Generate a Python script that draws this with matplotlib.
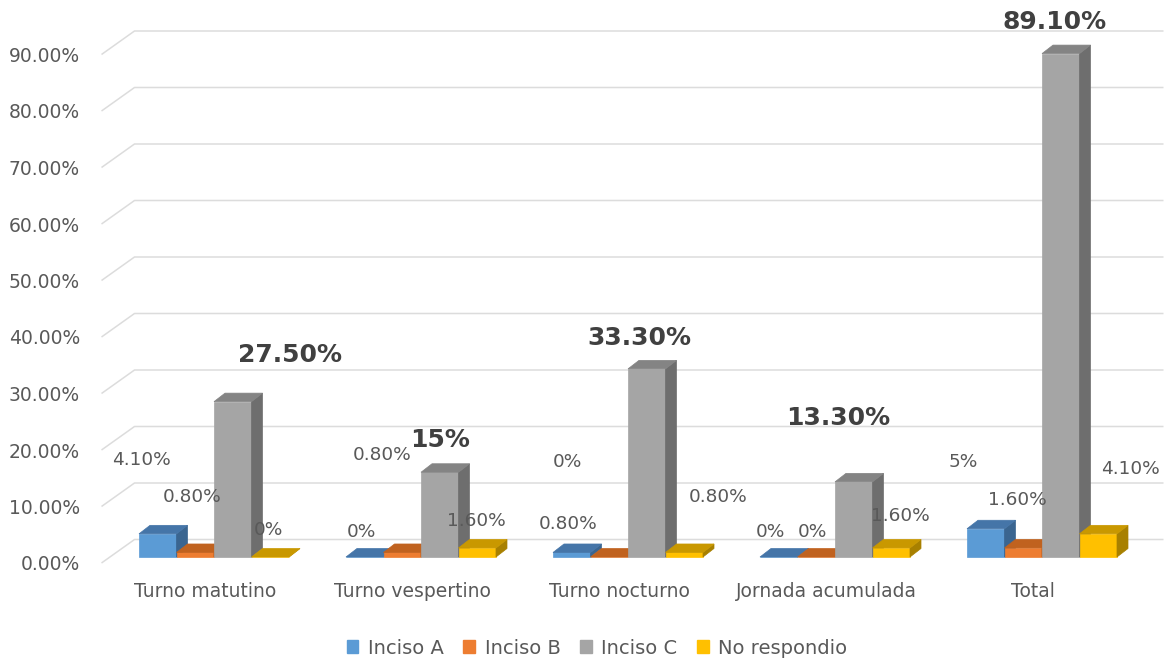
import matplotlib
matplotlib.use("Agg")
import matplotlib.pyplot as plt
from matplotlib.patches import Polygon, Patch
from matplotlib.ticker import FuncFormatter

# ---- data -------------------------------------------------------------
categories = ["Turno matutino", "Turno vespertino", "Turno nocturno",
              "Jornada acumulada", "Total"]
series_names = ["Inciso A", "Inciso B", "Inciso C", "No respondio"]
inciso_a = [4.1, 0.0, 0.8, 0.0, 5.0]
inciso_b = [0.8, 0.8, 0.0, 0.0, 1.6]
inciso_c = [27.5, 15.0, 33.3, 13.3, 89.1]
no_respondio = [0.0, 1.6, 0.8, 1.6, 4.1]
y_ticks = [0, 10, 20, 30, 40, 50, 60, 70, 80, 90]

# ---- styling ----------------------------------------------------------
front_colors = ["#5B9BD5", "#ED7D31", "#A5A5A5", "#FFC000"]
top_colors = ["#4575A8", "#C0621F", "#848484", "#C99800"]
side_colors = ["#3A6590", "#A3511A", "#6E6E6E", "#A88000"]
grid_color = "#DCDCDC"
text_color = "#595959"
bold_color = "#404040"

# label placement (pixels, relative to the top-front centre of each bar)
label_offsets = [
    [(-16, 74), (-3, 25), (-4, 28), (-8, 25), (-23, 67)],
    [(-3, 55), (-20, 97), (-42, 95), (-4, 25), (-6, 48)],
    [(57, 47), (0, 32), (-7, 31), (-16, 64), (-6, 32)],
    [(-2, 27), (-1, 27), (34, 55), (9, 32), (32, 65)],
]

plt.rcParams["font.family"] = ["DejaVu Sans"]

W, H = 1166, 663
fig = plt.figure(figsize=(W / 100, H / 100), dpi=100)

ax_left, ax_right = 101.5, 1136.5
ax_bottom, ax_top = 563.0, 54.5
ax = fig.add_axes([ax_left / W, 1 - ax_bottom / H,
                   (ax_right - ax_left) / W, (ax_bottom - ax_top) / H])
ax.set_xlim(-0.5, len(categories) - 0.5)
ax.set_ylim(0, 90)

px_x = (ax_right - ax_left) / len(categories)   # pixels per category
px_y = (ax_bottom - ax_top) / 90.0              # pixels per percent point

def sx(p):
    return p / px_x

def sy(p):
    return p / px_y

# oblique offsets (front plane -> back wall, bar row, bar depth)
wall_dx, wall_dy = sx(33), sy(23.5)
row_dx, row_dy = sx(9), sy(6)
depth_dx, depth_dy = sx(11), sy(8.5)
bar_w = sx(37.5)

# back wall gridlines with the left-side diagonals
x0 = -0.5
x_end = len(categories) - 0.5 - sx(6)
for t in y_ticks:
    ax.plot([x0, x0 + wall_dx, x_end + wall_dx], [t, t + wall_dy, t + wall_dy],
            color=grid_color, lw=1.1, clip_on=False, zorder=1,
            solid_capstyle="butt")

series = [inciso_a, inciso_b, inciso_c, no_respondio]

def fmt(v):
    return f"{v:.0f}%" if float(v).is_integer() else f"{v:.2f}%"

for g in range(len(categories)):
    for s, values in enumerate(series):
        v = values[g]
        xl = g - 2 * bar_w + s * bar_w + row_dx
        xr = xl + bar_w
        yb = row_dy
        yt = row_dy + v
        front = [(xl, yb), (xr, yb), (xr, yt), (xl, yt)]
        top = [(xl, yt), (xr, yt), (xr + depth_dx, yt + depth_dy),
               (xl + depth_dx, yt + depth_dy)]
        side = [(xr, yb), (xr + depth_dx, yb + depth_dy),
                (xr + depth_dx, yt + depth_dy), (xr, yt)]
        z = 3 + g * 10 + s
        for poly, col in ((front, front_colors[s]), (side, side_colors[s]),
                          (top, top_colors[s])):
            ax.add_patch(Polygon(poly, closed=True, facecolor=col,
                                 edgecolor=col, lw=0.5, clip_on=False,
                                 zorder=z))
        dx, dy = label_offsets[s][g]
        is_c = s == 2
        ax.annotate(fmt(v), xy=((xl + xr) / 2, yt), xytext=(dx, dy),
                    textcoords="offset pixels", ha="center", va="center",
                    fontsize=18 if is_c else 13.3,
                    fontweight="bold" if is_c else "normal",
                    color=bold_color if is_c else text_color,
                    zorder=100, annotation_clip=False)

# axes decoration
for sp in ax.spines.values():
    sp.set_visible(False)
ax.set_yticks(y_ticks)
ax.yaxis.set_major_formatter(FuncFormatter(lambda v, _: f"{v:.2f}%"))
ax.set_xticks(range(len(categories)))
ax.set_xticklabels(categories)
ax.tick_params(axis="y", length=0, pad=15.5, labelsize=13.5,
               labelcolor=text_color)
ax.tick_params(axis="x", length=0, pad=14, labelsize=13.5,
               labelcolor=text_color)
ax.set_facecolor("none")

handles = [Patch(facecolor=c, edgecolor=c) for c in front_colors]
fig.legend(handles, series_names, loc="center",
           bbox_to_anchor=(597 / W, 1 - 648 / H), ncol=4, frameon=False,
           fontsize=14, labelcolor=text_color, handlelength=0.6,
           handleheight=0.6, handletextpad=0.5, columnspacing=1.0)

fig.savefig("out.png", dpi=100, facecolor="white")
